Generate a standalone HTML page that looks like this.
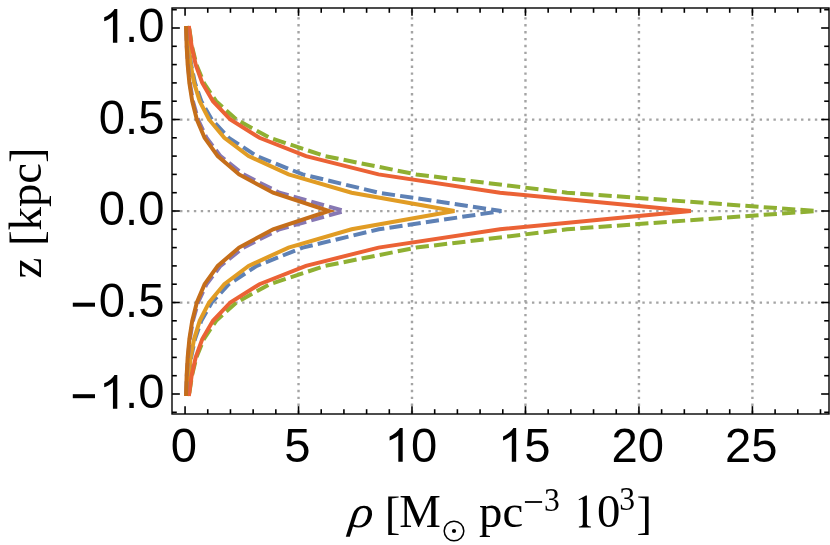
<!DOCTYPE html>
<html><head><meta charset="utf-8"><title>plot</title>
<style>html,body{margin:0;padding:0;background:#fff;}body{width:830px;height:545px;overflow:hidden;}svg{display:block;will-change:transform;}text{fill:#000;}</style></head><body>
<svg width="830" height="545" viewBox="0 0 830 545">
<rect x="0" y="0" width="830" height="545" fill="#fff"/>
<g stroke="#a4a4a4" stroke-width="2.4" fill="none" stroke-dasharray="2.4 4.50">
<line x1="298.53" y1="10.30" x2="298.53" y2="414.0"/>
<line x1="412.00" y1="10.30" x2="412.00" y2="414.0"/>
<line x1="525.47" y1="10.30" x2="525.47" y2="414.0"/>
<line x1="638.94" y1="10.30" x2="638.94" y2="414.0"/>
<line x1="752.41" y1="10.30" x2="752.41" y2="414.0"/>
<line x1="831.05" y1="302.60" x2="172.0" y2="302.60"/>
<line x1="831.05" y1="211.10" x2="172.0" y2="211.10"/>
<line x1="831.05" y1="119.60" x2="172.0" y2="119.60"/>
</g>
<path d="M187.15 395.99 L188.75 375.70 L191.11 357.40 L194.97 339.10 L201.32 320.80 L211.73 302.50 L228.79 284.20 L256.78 265.90 L302.68 247.60 L378.87 229.30 L501.41 211.00 L378.87 192.70 L302.68 174.40 L256.78 156.10 L228.79 137.80 L211.73 119.50 L201.32 101.20 L194.97 82.90 L191.11 64.60 L188.75 46.30 L187.15 26.01" fill="none" stroke="#5E81B5" stroke-width="4.0" stroke-linecap="butt" stroke-linejoin="miter" stroke-miterlimit="4.5" stroke-dasharray="13.20 5.20" stroke-dashoffset="17.93"/>
<path d="M187.19 394.00 L188.51 375.70 L190.64 357.40 L194.09 339.10 L199.70 320.80 L209.00 302.50 L224.32 284.20 L248.60 265.90 L288.54 247.60 L351.63 229.30 L454.44 211.00 L351.63 192.70 L288.54 174.40 L248.60 156.10 L224.32 137.80 L209.00 119.50 L199.70 101.20 L194.09 82.90 L190.64 64.60 L188.51 46.30 L187.19 28.00" fill="none" stroke="#E19C24" stroke-width="4.0" stroke-linecap="square" stroke-linejoin="miter" stroke-miterlimit="4.5"/>
<path d="M188.93 395.98 L191.95 375.70 L196.44 357.40 L203.85 339.10 L216.11 320.80 L236.35 302.50 L269.80 284.20 L325.05 265.90 L416.32 247.60 L567.09 229.30 L816.18 211.00 L567.09 192.70 L416.32 174.40 L325.05 156.10 L269.80 137.80 L236.35 119.50 L216.11 101.20 L203.85 82.90 L196.44 64.60 L191.95 46.30 L188.93 26.02" fill="none" stroke="#8FB032" stroke-width="4.0" stroke-linecap="butt" stroke-linejoin="miter" stroke-miterlimit="4.5" stroke-dasharray="13.20 5.20" stroke-dashoffset="15.54"/>
<path d="M189.12 394.00 L191.62 375.70 L195.70 357.40 L202.28 339.10 L212.97 320.80 L230.29 302.50 L259.50 284.20 L306.00 265.90 L378.50 247.60 L500.01 229.30 L690.80 211.00 L500.01 192.70 L378.50 174.40 L306.00 156.10 L259.50 137.80 L230.29 119.50 L212.97 101.20 L202.28 82.90 L195.70 64.60 L191.62 46.30 L189.12 28.00" fill="none" stroke="#EB6235" stroke-width="4.0" stroke-linecap="square" stroke-linejoin="miter" stroke-miterlimit="4.5"/>
<path d="M186.05 396.00 L186.81 375.70 L187.94 357.40 L189.83 339.10 L192.93 320.80 L198.04 302.50 L206.51 284.20 L220.46 265.90 L243.38 247.60 L279.47 229.30 L344.14 211.00 L279.47 192.70 L243.38 174.40 L220.46 156.10 L206.51 137.80 L198.04 119.50 L192.93 101.20 L189.83 82.90 L187.94 64.60 L186.81 46.30 L186.05 26.00" fill="none" stroke="#8778B3" stroke-width="4.0" stroke-linecap="butt" stroke-linejoin="miter" stroke-miterlimit="4.5" stroke-dasharray="13.20 5.20" stroke-dashoffset="17.01"/>
<path d="M186.08 394.00 L186.65 375.70 L187.67 357.40 L189.37 339.10 L192.21 320.80 L196.86 302.50 L204.58 284.20 L217.74 265.90 L239.07 247.60 L273.11 229.30 L328.94 211.00 L273.11 192.70 L239.07 174.40 L217.74 156.10 L204.58 137.80 L196.86 119.50 L192.21 101.20 L189.37 82.90 L187.67 64.60 L186.65 46.30 L186.08 28.00" fill="none" stroke="#C56E1A" stroke-width="4.0" stroke-linecap="square" stroke-linejoin="miter" stroke-miterlimit="4.5"/>
<rect x="172.0" y="8.0" width="657.0" height="406.0" fill="none" stroke="#000" stroke-width="1.4"/>
<g stroke="#000" stroke-width="1.6" fill="none">
<line x1="185.06" y1="414.0" x2="185.06" y2="406.15"/>
<line x1="185.06" y1="8.0" x2="185.06" y2="15.85"/>
<line x1="207.75" y1="414.0" x2="207.75" y2="409.2"/>
<line x1="207.75" y1="8.0" x2="207.75" y2="12.8"/>
<line x1="230.45" y1="414.0" x2="230.45" y2="409.2"/>
<line x1="230.45" y1="8.0" x2="230.45" y2="12.8"/>
<line x1="253.14" y1="414.0" x2="253.14" y2="409.2"/>
<line x1="253.14" y1="8.0" x2="253.14" y2="12.8"/>
<line x1="275.84" y1="414.0" x2="275.84" y2="409.2"/>
<line x1="275.84" y1="8.0" x2="275.84" y2="12.8"/>
<line x1="298.53" y1="414.0" x2="298.53" y2="406.15"/>
<line x1="298.53" y1="8.0" x2="298.53" y2="15.85"/>
<line x1="321.22" y1="414.0" x2="321.22" y2="409.2"/>
<line x1="321.22" y1="8.0" x2="321.22" y2="12.8"/>
<line x1="343.92" y1="414.0" x2="343.92" y2="409.2"/>
<line x1="343.92" y1="8.0" x2="343.92" y2="12.8"/>
<line x1="366.61" y1="414.0" x2="366.61" y2="409.2"/>
<line x1="366.61" y1="8.0" x2="366.61" y2="12.8"/>
<line x1="389.31" y1="414.0" x2="389.31" y2="409.2"/>
<line x1="389.31" y1="8.0" x2="389.31" y2="12.8"/>
<line x1="412.00" y1="414.0" x2="412.00" y2="406.15"/>
<line x1="412.00" y1="8.0" x2="412.00" y2="15.85"/>
<line x1="434.69" y1="414.0" x2="434.69" y2="409.2"/>
<line x1="434.69" y1="8.0" x2="434.69" y2="12.8"/>
<line x1="457.39" y1="414.0" x2="457.39" y2="409.2"/>
<line x1="457.39" y1="8.0" x2="457.39" y2="12.8"/>
<line x1="480.08" y1="414.0" x2="480.08" y2="409.2"/>
<line x1="480.08" y1="8.0" x2="480.08" y2="12.8"/>
<line x1="502.78" y1="414.0" x2="502.78" y2="409.2"/>
<line x1="502.78" y1="8.0" x2="502.78" y2="12.8"/>
<line x1="525.47" y1="414.0" x2="525.47" y2="406.15"/>
<line x1="525.47" y1="8.0" x2="525.47" y2="15.85"/>
<line x1="548.16" y1="414.0" x2="548.16" y2="409.2"/>
<line x1="548.16" y1="8.0" x2="548.16" y2="12.8"/>
<line x1="570.86" y1="414.0" x2="570.86" y2="409.2"/>
<line x1="570.86" y1="8.0" x2="570.86" y2="12.8"/>
<line x1="593.55" y1="414.0" x2="593.55" y2="409.2"/>
<line x1="593.55" y1="8.0" x2="593.55" y2="12.8"/>
<line x1="616.25" y1="414.0" x2="616.25" y2="409.2"/>
<line x1="616.25" y1="8.0" x2="616.25" y2="12.8"/>
<line x1="638.94" y1="414.0" x2="638.94" y2="406.15"/>
<line x1="638.94" y1="8.0" x2="638.94" y2="15.85"/>
<line x1="661.63" y1="414.0" x2="661.63" y2="409.2"/>
<line x1="661.63" y1="8.0" x2="661.63" y2="12.8"/>
<line x1="684.33" y1="414.0" x2="684.33" y2="409.2"/>
<line x1="684.33" y1="8.0" x2="684.33" y2="12.8"/>
<line x1="707.02" y1="414.0" x2="707.02" y2="409.2"/>
<line x1="707.02" y1="8.0" x2="707.02" y2="12.8"/>
<line x1="729.72" y1="414.0" x2="729.72" y2="409.2"/>
<line x1="729.72" y1="8.0" x2="729.72" y2="12.8"/>
<line x1="752.41" y1="414.0" x2="752.41" y2="406.15"/>
<line x1="752.41" y1="8.0" x2="752.41" y2="15.85"/>
<line x1="775.10" y1="414.0" x2="775.10" y2="409.2"/>
<line x1="775.10" y1="8.0" x2="775.10" y2="12.8"/>
<line x1="797.80" y1="414.0" x2="797.80" y2="409.2"/>
<line x1="797.80" y1="8.0" x2="797.80" y2="12.8"/>
<line x1="820.49" y1="414.0" x2="820.49" y2="409.2"/>
<line x1="820.49" y1="8.0" x2="820.49" y2="12.8"/>
<line x1="172.0" y1="412.30" x2="176.8" y2="412.30"/>
<line x1="829.0" y1="412.30" x2="824.2" y2="412.30"/>
<line x1="172.0" y1="394.00" x2="179.85" y2="394.00"/>
<line x1="829.0" y1="394.00" x2="821.15" y2="394.00"/>
<line x1="172.0" y1="375.70" x2="176.8" y2="375.70"/>
<line x1="829.0" y1="375.70" x2="824.2" y2="375.70"/>
<line x1="172.0" y1="357.40" x2="176.8" y2="357.40"/>
<line x1="829.0" y1="357.40" x2="824.2" y2="357.40"/>
<line x1="172.0" y1="339.10" x2="176.8" y2="339.10"/>
<line x1="829.0" y1="339.10" x2="824.2" y2="339.10"/>
<line x1="172.0" y1="320.80" x2="176.8" y2="320.80"/>
<line x1="829.0" y1="320.80" x2="824.2" y2="320.80"/>
<line x1="172.0" y1="302.50" x2="179.85" y2="302.50"/>
<line x1="829.0" y1="302.50" x2="821.15" y2="302.50"/>
<line x1="172.0" y1="284.20" x2="176.8" y2="284.20"/>
<line x1="829.0" y1="284.20" x2="824.2" y2="284.20"/>
<line x1="172.0" y1="265.90" x2="176.8" y2="265.90"/>
<line x1="829.0" y1="265.90" x2="824.2" y2="265.90"/>
<line x1="172.0" y1="247.60" x2="176.8" y2="247.60"/>
<line x1="829.0" y1="247.60" x2="824.2" y2="247.60"/>
<line x1="172.0" y1="229.30" x2="176.8" y2="229.30"/>
<line x1="829.0" y1="229.30" x2="824.2" y2="229.30"/>
<line x1="172.0" y1="211.00" x2="179.85" y2="211.00"/>
<line x1="829.0" y1="211.00" x2="821.15" y2="211.00"/>
<line x1="172.0" y1="192.70" x2="176.8" y2="192.70"/>
<line x1="829.0" y1="192.70" x2="824.2" y2="192.70"/>
<line x1="172.0" y1="174.40" x2="176.8" y2="174.40"/>
<line x1="829.0" y1="174.40" x2="824.2" y2="174.40"/>
<line x1="172.0" y1="156.10" x2="176.8" y2="156.10"/>
<line x1="829.0" y1="156.10" x2="824.2" y2="156.10"/>
<line x1="172.0" y1="137.80" x2="176.8" y2="137.80"/>
<line x1="829.0" y1="137.80" x2="824.2" y2="137.80"/>
<line x1="172.0" y1="119.50" x2="179.85" y2="119.50"/>
<line x1="829.0" y1="119.50" x2="821.15" y2="119.50"/>
<line x1="172.0" y1="101.20" x2="176.8" y2="101.20"/>
<line x1="829.0" y1="101.20" x2="824.2" y2="101.20"/>
<line x1="172.0" y1="82.90" x2="176.8" y2="82.90"/>
<line x1="829.0" y1="82.90" x2="824.2" y2="82.90"/>
<line x1="172.0" y1="64.60" x2="176.8" y2="64.60"/>
<line x1="829.0" y1="64.60" x2="824.2" y2="64.60"/>
<line x1="172.0" y1="46.30" x2="176.8" y2="46.30"/>
<line x1="829.0" y1="46.30" x2="824.2" y2="46.30"/>
<line x1="172.0" y1="28.00" x2="179.85" y2="28.00"/>
<line x1="829.0" y1="28.00" x2="821.15" y2="28.00"/>
<line x1="172.0" y1="9.70" x2="176.8" y2="9.70"/>
<line x1="829.0" y1="9.70" x2="824.2" y2="9.70"/>
</g>
<g font-family="'Liberation Sans', sans-serif" font-size="47.2">
<text x="164.4" y="42.30" text-anchor="end">.0</text>
<path d="M117.30 42.75 L112.93 42.75 L112.93 16.37 Q111.36 17.80 108.80 19.23 Q106.24 20.65 104.20 21.36 L104.20 17.36 Q107.86 15.73 110.60 13.41 Q113.35 11.08 114.49 8.90 L117.30 8.90 Z" fill="#000"/>
<text x="164.4" y="133.80" text-anchor="end">0.5</text>
<text x="164.4" y="225.30" text-anchor="end">0.0</text>
<text x="164.4" y="316.80" text-anchor="end">0.5</text>
<rect x="72.8" y="302.70" width="22.2" height="4.0" fill="#000"/>
<text x="164.4" y="408.30" text-anchor="end">.0</text>
<path d="M117.30 408.75 L112.93 408.75 L112.93 382.37 Q111.36 383.80 108.80 385.23 Q106.24 386.65 104.20 387.36 L104.20 383.36 Q107.86 381.73 110.60 379.41 Q113.35 377.08 114.49 374.90 L117.30 374.90 Z" fill="#000"/>
<rect x="72.8" y="394.20" width="22.2" height="4.0" fill="#000"/>
<text x="183.96" y="462.0" text-anchor="middle">0</text>
<text x="297.43" y="462.0" text-anchor="middle">5</text>
<text x="410.90" y="462.0" text-anchor="start">0</text>
<path d="M402.70 461.75 L398.33 461.75 L398.33 435.45 Q396.76 436.87 394.20 438.29 Q391.64 439.72 389.60 440.43 L389.60 436.44 Q393.26 434.81 396.00 432.49 Q398.75 430.18 399.89 428.00 L402.70 428.00 Z" fill="#000"/>
<text x="524.37" y="462.0" text-anchor="start">5</text>
<path d="M516.17 461.75 L511.80 461.75 L511.80 435.45 Q510.23 436.87 507.67 438.29 Q505.11 439.72 503.07 440.43 L503.07 436.44 Q506.73 434.81 509.47 432.49 Q512.22 430.18 513.36 428.00 L516.17 428.00 Z" fill="#000"/>
<text x="637.84" y="462.0" text-anchor="middle">20</text>
<text x="751.31" y="462.0" text-anchor="middle">25</text>
</g>
<g font-family="'Liberation Serif', serif" font-size="46.8">
<text transform="translate(40.6 278.6) rotate(-90)">z <tspan dy="1.6">[</tspan><tspan dy="-1.6">kpc</tspan><tspan dy="1.6">]</tspan></text>
<text id="lb" x="384.7" y="529.0" font-size="46.8" font-style="normal">[</text>
<text id="M" x="399.2" y="527.3" font-size="46.8" font-style="normal">M</text>
<text id="pc" x="479.0" y="527.3" font-size="46.8" font-style="normal">pc</text>
<text id="s3a" transform="translate(543.9 510.6) scale(0.93 1)" font-size="34.0">3</text>
<text id="ten" x="597.1" y="527.3" font-size="46.8" font-style="normal">0</text>
<text id="s3b" transform="translate(619.3 510.0) scale(0.93 1)" font-size="34.0">3</text>
<text id="rb" x="636.5" y="528.9" font-size="46.8" font-style="normal">]</text>
<text id="rho" transform="translate(348.2 527.3) skewX(-7) scale(1.06 0.97)" font-size="46.8" font-style="italic">ρ</text>
<rect x="524.9" y="501.1" width="17.2" height="1.8" fill="#000"/>
<path d="M586.9 495.6 L586.9 524.0 Q586.9 526.3 590.9 526.6 L590.9 527.5 L578.9 527.5 L578.9 526.6 Q582.8 526.3 582.8 524.0 L582.8 500.6 Q582.7 498.9 581.3 499.3 L579.0 500.3 L578.6 499.5 L585.9 495.6 Z" fill="#000"/>
</g>
<circle cx="454" cy="531" r="9.8" fill="none" stroke="#000" stroke-width="1.5"/><circle cx="454" cy="531" r="2.1" fill="#000"/>
</svg></body></html>
